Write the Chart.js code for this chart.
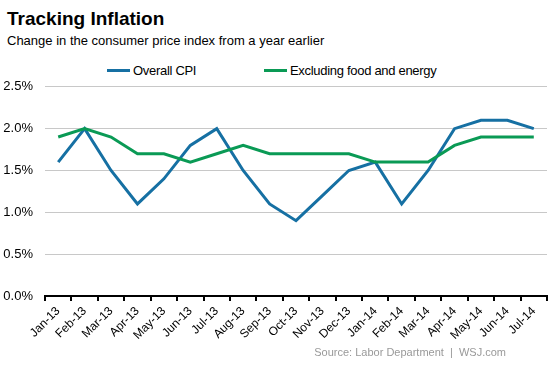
<!DOCTYPE html>
<html>
<head>
  <title>Tracking Inflation</title>
  <script src="https://cdn.jsdelivr.net/npm/chart.js"></script>
  <style>
    body { margin: 0; background: #fff; font-family: Arial, 'Liberation Sans', sans-serif; width: 553px; height: 369px; position: relative; overflow: hidden; }
    .title { position: absolute; left: 7px; top: 8px; font-size: 19px; font-weight: bold; color: #000; }
    .subtitle { position: absolute; left: 7px; top: 33px; font-size: 13px; color: #000; }
    .legend { position: absolute; top: 63px; font-size: 13px; letter-spacing: -0.3px; color: #000; white-space: nowrap; }
    .legend i { display: inline-block; width: 23px; height: 3px; vertical-align: middle; margin-right: 3px; position: relative; top: -1px; }
    .source { position: absolute; right: 47px; top: 346px; font-size: 11px; color: #999; }
    #wrap { position: absolute; left: 0; top: 67px; width: 553px; height: 302px; }
  </style>
</head>
<body>
  <div class="title">Tracking Inflation</div>
  <div class="subtitle">Change in the consumer price index from a year earlier</div>
  <div class="legend" style="left:107px"><i style="background:#1670a3"></i>Overall CPI</div>
  <div class="legend" style="left:264px"><i style="background:#0a9a55"></i>Excluding food and energy</div>
  <div id="wrap"><canvas id="chart"></canvas></div>
  <div class="source">Source: Labor Department &nbsp;|&nbsp; WSJ.com</div>
  <script>
    const months = ['Jan-13','Feb-13','Mar-13','Apr-13','May-13','Jun-13','Jul-13','Aug-13','Sep-13','Oct-13',
                    'Nov-13','Dec-13','Jan-14','Feb-14','Mar-14','Apr-14','May-14','Jun-14','Jul-14'];
    const overallCpi = [1.6, 2.0, 1.5, 1.1, 1.4, 1.8, 2.0, 1.5, 1.1, 0.9, 1.2, 1.5, 1.6, 1.1, 1.5, 2.0, 2.1, 2.1, 2.0];
    const coreCpi    = [1.9, 2.0, 1.9, 1.7, 1.7, 1.6, 1.7, 1.8, 1.7, 1.7, 1.7, 1.7, 1.6, 1.6, 1.6, 1.8, 1.9, 1.9, 1.9];

    new Chart(document.getElementById('chart'), {
      type: 'line',
      data: {
        labels: months,
        datasets: [
          { label: 'Excluding food and energy', data: coreCpi, borderColor: '#0a9a55', borderWidth: 3, pointRadius: 0, tension: 0, fill: false },
          { label: 'Overall CPI', data: overallCpi, borderColor: '#1670a3', borderWidth: 3, pointRadius: 0, tension: 0, fill: false }
        ]
      },
      options: {
        responsive: true,
        maintainAspectRatio: false,
        animation: false,
        layout: { padding: { top: 7, right: 6, left: 0, bottom: 0 } },
        plugins: { legend: { display: false }, tooltip: { enabled: false } },
        scales: {
          x: {
            offset: true,
            afterFit: s => { s.height = 73; },
            grid: { offset: true, drawOnChartArea: false, color: '#000', lineWidth: 2, tickLength: 5 },
            border: { color: '#000', width: 2 },
            ticks: { color: '#000', font: { family: 'Arial', size: 12 }, minRotation: 45, maxRotation: 45, padding: 3, autoSkip: false }
          },
          y: {
            min: 0, max: 2.5,
            afterFit: s => { s.width = 45; },
            grid: { color: '#c8c8c8', lineWidth: 1, drawTicks: false },
            border: { display: false },
            ticks: { stepSize: 0.5, padding: 12, color: '#000', font: { family: 'Arial', size: 13 },
                     callback: v => v.toFixed(1) + '%' }
          }
        }
      }
    });
  </script>
</body>
</html>
